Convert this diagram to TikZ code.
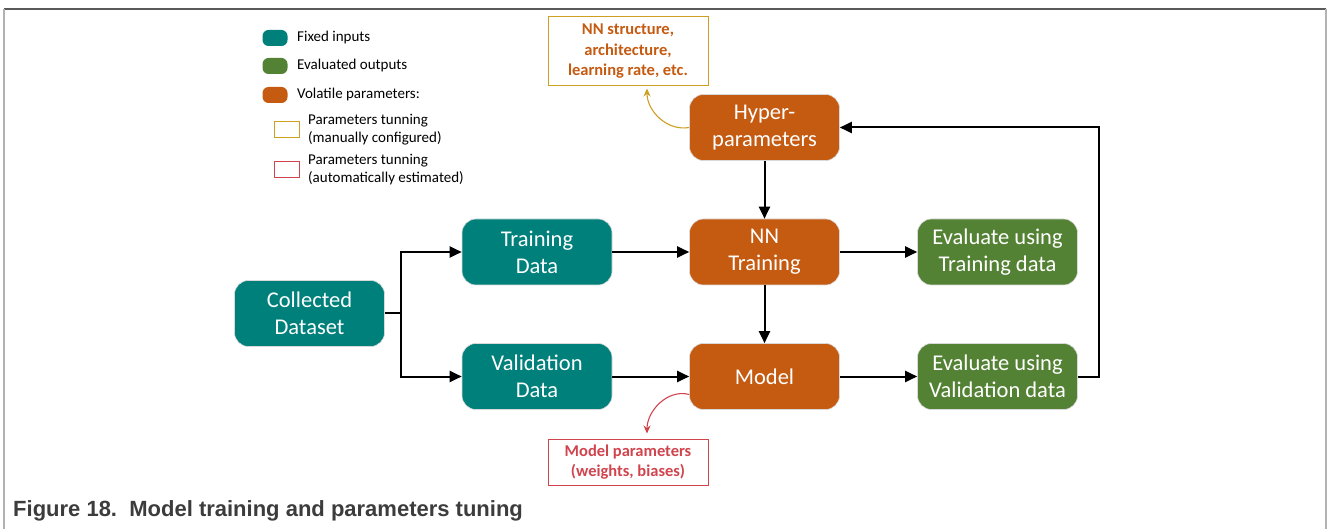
\documentclass[tikz,border=0pt]{standalone}
\usepackage{fontspec}
\setmainfont{Carlito}
\newfontfamily\captionfont{Liberation Sans}
\usetikzlibrary{arrows.meta,calc}
\definecolor{inputteal}{RGB}{0,128,123}
\definecolor{outputgreen}{RGB}{84,130,53}
\definecolor{volorange}{RGB}{197,90,17}
\definecolor{manualgold}{RGB}{205,160,35}
\definecolor{autored}{RGB}{208,68,78}
\definecolor{captiongray}{RGB}{60,60,60}
\tikzset{
  block/.style={rounded corners=14pt, draw=black!15, line width=0.6pt,
    minimum width=150pt, minimum height=66pt, align=center, text=white,
    font=\fontsize{22.5}{27}\selectfont, inner sep=2pt},
  fixedin/.style={block, fill=inputteal},
  evalout/.style={block, fill=outputgreen, minimum width=160pt},
  volatile/.style={block, fill=volorange},
  flow/.style={line width=2pt, -{Triangle[length=12pt,width=11pt]}},
  flowline/.style={line width=2pt},
  notebox/.style={draw, line width=1pt, minimum width=160pt, align=center,
    font=\bfseries\fontsize{16.5}{20.5}\selectfont, inner sep=4pt},
  pill/.style={rounded corners=6pt, minimum width=25pt, minimum height=16pt, inner sep=0pt},
  legtext/.style={anchor=west, font=\fontsize{15}{18.5}\selectfont, align=left, inner sep=0pt},
  tunebox/.style={draw, line width=0.9pt, minimum width=25pt, minimum height=16pt, inner sep=0pt},
}
\begin{document}
\begin{tikzpicture}[x=1pt,y=-1pt]
\useasboundingbox (0,0) rectangle (1328,529);

% frame
\draw[black!65, line width=1.5pt] (4,9) -- (1326,9);
\draw[black!30, line width=1.5pt] (4,9) -- (4,529);
\draw[black!30, line width=1.5pt] (1326,9) -- (1326,529);

% legend
\node[pill, fill=inputteal] (lgA) at (275,38) {};
\node[legtext] (lgAt) at (297,38) {Fixed inputs};
\node[pill, fill=outputgreen] (lgB) at (275,66) {};
\node[legtext] (lgBt) at (297,66) {Evaluated outputs};
\node[pill, fill=volorange] (lgC) at (275,95) {};
\node[legtext] (lgCt) at (297,95) {Volatile parameters:};
\node[tunebox, draw=manualgold] (lgD) at (286.5,129) {};
\node[legtext] (lgDt) at (308,129.5) {Parameters tunning\\(manually configured)};
\node[tunebox, draw=autored] (lgE) at (286.5,169) {};
\node[legtext] (lgEt) at (308,169.5) {Parameters tunning\\(automatically estimated)};

% main blocks
\node[fixedin] (collected) at (309.5,313.5) {Collected\\Dataset};
\node[fixedin] (train) at (537,252) {Training\\Data};
\node[fixedin] (valid) at (537,376.5) {Validation\\Data};
\node[volatile] (hyper) at (764.5,127.5) {Hyper-\\parameters};
\node[volatile] (nntrain) at (764.5,252) {NN\\Training};
\node[volatile] (model) at (764.5,376.5) {Model};
\node[evalout] (evtrain) at (997.5,252) {Evaluate using\\Training data};
\node[evalout] (evvalid) at (997.5,376.5) {Evaluate using\\Validation data};

% annotation boxes
\node[notebox, draw=manualgold, text=volorange, minimum height=69pt] (hyperinfo) at (628,51.5)
  {NN structure,\\architecture,\\learning rate, etc.};
\node[notebox, draw=autored, text=autored, minimum height=46pt] (modelinfo) at (628,462)
  {Model parameters\\(weights, biases)};

% connectors
\coordinate (split) at (401,313.5);
\draw[flowline] (collected.east) -- (split);
\draw[flow] (split) |- (train.west);
\draw[flow] (split) |- (valid.west);
\draw[flow] (train) -- (nntrain);
\draw[flow] (valid) -- (model);
\draw[flow] (nntrain) -- (evtrain);
\draw[flow] (model) -- (evvalid);
\draw[flow] (hyper) -- (nntrain);
\draw[flow] (nntrain) -- (model);
\coordinate (backturn) at ($(evvalid.east)+(21,0)$);
\draw[flow] (evvalid.east) -- (backturn) |- (hyper.east);

% parameter annotations
\coordinate (hypertip) at ($(hyperinfo.south)+(19,2)$);
\draw[manualgold, line width=1.1pt, -{Stealth[length=8pt,width=7pt]}]
  (hyper.west) to[out=190, in=-90] (hypertip);
\coordinate (modelstart) at ($(model.west)+(0,18)$);
\coordinate (modeltip) at ($(modelinfo.north)+(19,-5)$);
\draw[autored, line width=1.1pt, -{Stealth[length=8pt,width=7pt]}]
  (modelstart) to[out=165, in=90] (modeltip);

% caption
\node[anchor=west, inner sep=0pt, text=captiongray,
  font=\captionfont\bfseries\fontsize{22}{24}\selectfont] (caption) at (13,511)
  {Figure 18.\ \ Model training and parameters tuning};
\end{tikzpicture}
\end{document}
